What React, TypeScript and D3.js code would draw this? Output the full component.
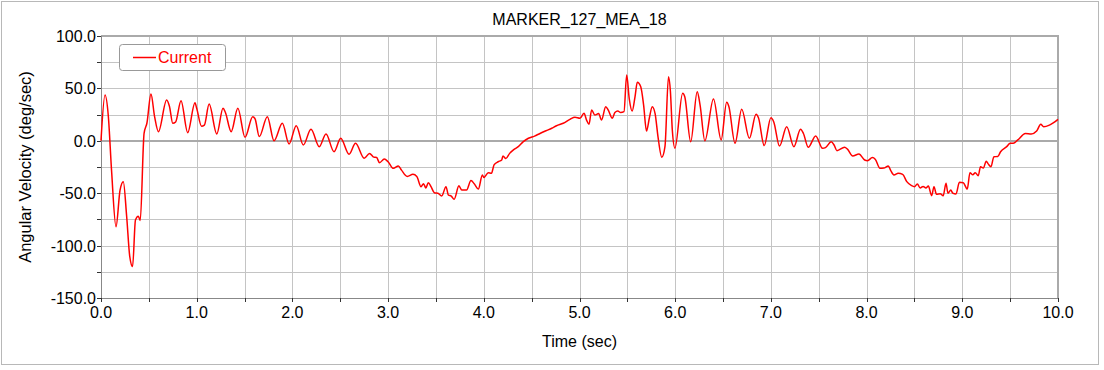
import React from "react";
import * as d3 from "d3";

const title = "MARKER_127_MEA_18";
const seriesName = "Current";
const xLabel = "Time (sec)";
const yLabel = "Angular Velocity (deg/sec)";

const xTicks = [0, 0.5, 1, 1.5, 2, 2.5, 3, 3.5, 4, 4.5, 5, 5.5, 6, 6.5, 7, 7.5, 8, 8.5, 9, 9.5, 10];
const xLabelTicks = [0, 1, 2, 3, 4, 5, 6, 7, 8, 9, 10];
const yTicks = [-150, -125, -100, -75, -50, -25, 0, 25, 50, 75, 100];
const yLabelTicks = [-150, -100, -50, 0, 50, 100];

const time = [
  0, 0.042, 0.077, 0.11, 0.157, 0.199, 0.233, 0.268, 0.3, 0.33, 0.36, 0.39, 0.41, 0.45, 0.48, 0.522, 0.56, 0.6,
  0.686, 0.715, 0.75, 0.78, 0.836, 0.906, 0.982, 1.0, 1.05, 1.08, 1.13, 1.21, 1.275, 1.3, 1.36, 1.43, 1.505,
  1.585, 1.61, 1.654, 1.738, 1.808, 1.895, 1.965, 2.04, 2.114, 2.194, 2.281, 2.351, 2.435, 2.505, 2.592, 2.66,
  2.75, 2.806, 2.85, 2.88, 2.91, 2.96, 3.0, 3.055, 3.107, 3.14, 3.2, 3.26, 3.3, 3.344, 3.37, 3.395, 3.42, 3.45,
  3.483, 3.52, 3.56, 3.605, 3.63, 3.66, 3.69, 3.74, 3.77, 3.82, 3.866, 3.9, 3.943, 3.985, 4.0, 4.047, 4.08,
  4.107, 4.15, 4.187, 4.2, 4.23, 4.27, 4.31, 4.36, 4.41, 4.466, 4.53, 4.587, 4.65, 4.71, 4.76, 4.83, 4.9, 4.953,
  5.005, 5.047, 5.075, 5.099, 5.127, 5.16, 5.2, 5.23, 5.274, 5.3, 5.343, 5.37, 5.4, 5.43, 5.465, 5.493, 5.52,
  5.55, 5.58, 5.604, 5.64, 5.67, 5.7, 5.73, 5.76, 5.79, 5.82, 5.86, 5.893, 5.93, 5.95, 5.97, 5.997, 6.078, 6.1,
  6.162, 6.23, 6.26, 6.31, 6.4, 6.48, 6.538, 6.56, 6.625, 6.695, 6.775, 6.845, 6.87, 6.93, 7.0, 7.03, 7.09,
  7.165, 7.24, 7.31, 7.34, 7.39, 7.468, 7.54, 7.57, 7.63, 7.66, 7.69, 7.77, 7.8, 7.855, 7.92, 7.98, 8.01, 8.06,
  8.09, 8.14, 8.18, 8.227, 8.25, 8.286, 8.33, 8.377, 8.42, 8.47, 8.5, 8.53, 8.56, 8.59, 8.62, 8.645, 8.68,
  8.704, 8.73, 8.77, 8.8, 8.83, 8.85, 8.88, 8.9, 8.934, 8.97, 9.01, 9.052, 9.08, 9.11, 9.135, 9.167, 9.19,
  9.22, 9.25, 9.27, 9.3, 9.33, 9.37, 9.4, 9.464, 9.5, 9.533, 9.58, 9.66, 9.72, 9.777, 9.82, 9.85, 9.91, 9.95, 10.0,
];

const velocity = [
  0, 43.6, 23, -27.9, -82, -47, -39, -72, -110, -120, -75.6, -72, -76, 7, 17, 44.7, 23, 8.7,
  39, 33, 16.7, 18, 38.3, 7.8, 36.4, 31, 14, 15, 35, 6.5, 31, 27, 8.7, 31, 3.3,
  23, 21, 4, 23, 0, 16.7, -3, 14.4, -4, 11, -5.6, 6.5, -10.4, 2.4, -12.9, -2.4,
  -16.7, -12, -15.6, -16, -20.9, -17.4, -20, -26.3, -24, -28, -34, -32, -34, -43.8, -41, -45, -40, -44,
  -49.5, -50, -52.7, -43.8, -51.7, -52.7, -55.8, -43, -47, -47, -38, -41, -46, -32.6, -35, -30.4, -31,
  -23, -20, -18.3, -14.5, -17, -12, -8.7, -5.6, -1, 2.4, 4.5, 7, 9.6, 12, 14.4, 16.7, 20.5, 22.4,
  21.5, 26.2, 19.5, 15.7, 29.4, 24.6, 26, 19.8, 32.6, 29.4, 21.5, 27, 28.4, 27, 27.8, 62.8, 40,
  28.4, 42, 55.8, 51.6, 34, 9.3, 21.8, 32.6, 26, 4, -15.7, -5.6, 61, 47, 10, -7, 45.3, 42,
  -1, 46.8, 34, 0, 40, 0.8, 36.7, 33, -2.4, 30, 2.4, 25.3, 22, -4.6, 22, 18, -5,
  13.5, -5.6, 11, 7, -6.2, 4.6, -7.2, -6.5, -1, -4, -9.4, -6.2, -8, -14.5, -12.6, -18.3, -19, -16,
  -17.5, -26.3, -26, -24, -28, -32.6, -31, -32, -39, -42.8, -43.8, -41.2, -45, -43.5, -45, -43.1, -52.4,
  -43.8, -51, -50.5, -52.4, -40.6, -50, -47, -50, -50.8, -39.6, -40, -46, -30.4, -32.5, -30.4, -33.3, -24.7,
  -26, -19.5, -22, -24.7, -15.2, -15, -10.5, -5.6, -2.4, -2.4, 0.8, 7, 6.5, 9.3, 15.7, 13.5, 15, 17, 20.5,
];

const W = 1104;
const H = 370;
const L = 101;
const R = 1058;
const T = 36;
const B = 298;
const FONT = "'Liberation Sans', Arial, Helvetica, sans-serif";

export default function App() {
  const x = d3.scaleLinear().domain([0, 10]).range([L, R]);
  const y = d3.scaleLinear().domain([-150, 100]).range([B, T]);
  const pts: [number, number][] = time.map((t, i) => [t, velocity[i]]);
  const line = d3
    .line<[number, number]>()
    .x((d) => x(d[0]))
    .y((d) => y(d[1]))
    .curve(d3.curveMonotoneX);

  const gridColor = "#c4c4c4";

  return (
    <svg
      width={W}
      height={H}
      style={{ position: "absolute", left: 0, top: 0, background: "#fff" }}
      fontFamily={FONT}
    >
      <rect x={0} y={0} width={W} height={H} fill="#fff" />
      <rect x={1.5} y={1.5} width={1097} height={363} fill="none" stroke="#b8b8b8" strokeWidth={1} />

      <text x={(L + R) / 2} y={25} textAnchor="middle" fontSize={16} fill="#000">
        {title}
      </text>

      {yTicks
        .filter((v) => v !== -150 && v !== 100 && v !== 0)
        .map((v) => (
          <line key={"gy" + v} x1={L} x2={R} y1={Math.round(y(v)) + 0.5} y2={Math.round(y(v)) + 0.5} stroke={gridColor} strokeWidth={1} />
        ))}
      {xTicks
        .filter((v) => v !== 0 && v !== 10)
        .map((v) => (
          <line key={"gx" + v} x1={Math.round(x(v)) + 0.5} x2={Math.round(x(v)) + 0.5} y1={T} y2={B} stroke={gridColor} strokeWidth={1} />
        ))}
      <line x1={L} x2={R} y1={Math.round(y(0))} y2={Math.round(y(0))} stroke="#aaaaaa" strokeWidth={2} />

      <line x1={L} x2={R + 1} y1={T} y2={T} stroke="#aaaaaa" strokeWidth={2} />
      <line x1={R} x2={R} y1={T} y2={B} stroke="#aaaaaa" strokeWidth={2} />

      <line x1={L + 0.5} x2={L + 0.5} y1={T} y2={B} stroke="#888" strokeWidth={1} />
      <line x1={L} x2={R} y1={B + 0.5} y2={B + 0.5} stroke="#888" strokeWidth={1} />
      {yTicks.map((v) => (
        <line key={"ty" + v} x1={L - 4} x2={L} y1={Math.round(y(v)) + 0.5} y2={Math.round(y(v)) + 0.5} stroke="#333" strokeWidth={1} />
      ))}
      {xTicks.map((v) => (
        <line key={"tx" + v} x1={Math.round(x(v)) + 0.5} x2={Math.round(x(v)) + 0.5} y1={B} y2={B + 4} stroke="#333" strokeWidth={1} />
      ))}
      {yLabelTicks.map((v) => (
        <text key={"ly" + v} x={L - 5} y={y(v) + 6} textAnchor="end" fontSize={16} fill="#000">
          {v.toFixed(1)}
        </text>
      ))}
      {xLabelTicks.map((v) => (
        <text key={"lx" + v} x={x(v)} y={B + 20} textAnchor="middle" fontSize={16} fill="#000">
          {v.toFixed(1)}
        </text>
      ))}

      <text x={(L + R) / 2} y={347} textAnchor="middle" fontSize={16} fill="#000">
        {xLabel}
      </text>
      <text
        transform={`translate(31, ${(T + B) / 2}) rotate(-90)`}
        textAnchor="middle"
        fontSize={16.5}
        fill="#000"
      >
        {yLabel}
      </text>

      <path d={line(pts) || ""} fill="none" stroke="#ff0000" strokeWidth={1.5} strokeLinejoin="round" />

      <rect x={119.5} y={44.5} width={106} height={26} rx={3} fill="#fff" stroke="#999" strokeWidth={1} />
      <line x1={133} x2={156} y1={57.5} y2={57.5} stroke="#ff0000" strokeWidth={1.5} />
      <text x={158} y={63} fontSize={16} fill="#ff0000">
        {seriesName}
      </text>
    </svg>
  );
}
